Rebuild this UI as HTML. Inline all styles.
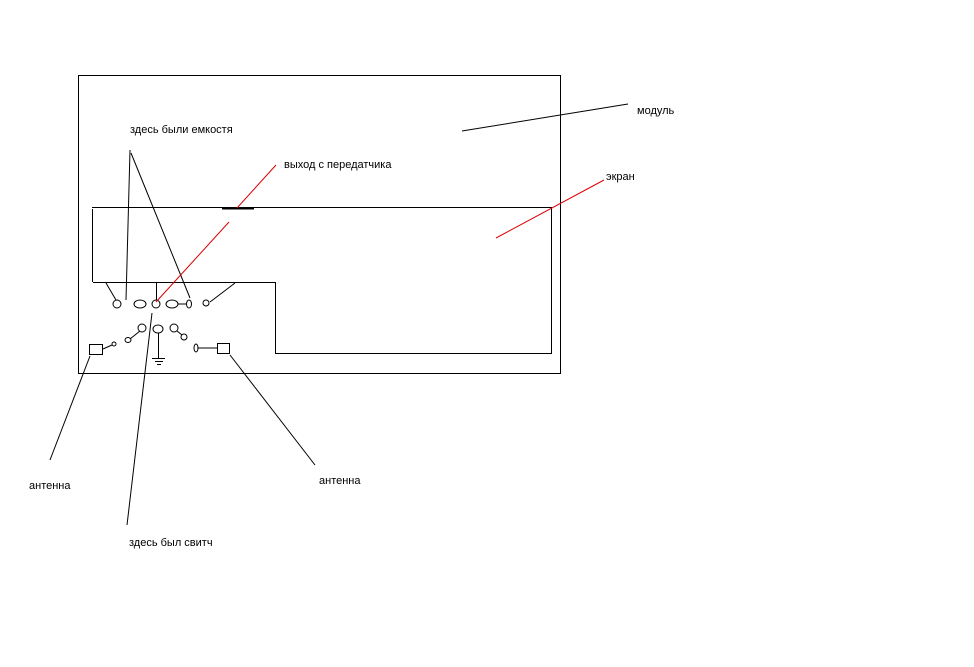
<!DOCTYPE html>
<html><head><meta charset="utf-8"><style>
body{margin:0;background:#fff;width:974px;height:662px;overflow:hidden}
text{font-family:"Liberation Sans","DejaVu Sans",sans-serif;font-size:11px;fill:#000}
</style></head><body>
<svg width="974" height="662" viewBox="0 0 974 662" xmlns="http://www.w3.org/2000/svg" fill="none" stroke="#000" stroke-width="1">
<rect x="78.5" y="75.5" width="482" height="298"/>
<!-- screen -->
<polyline points="92,207.5 551.5,207.5 551.5,353.5 275.5,353.5 275.5,282.5 93,282.5"/>
<line x1="92.5" y1="209" x2="92.5" y2="282"/>
<line x1="222" y1="208.5" x2="254" y2="208.5" stroke-width="2"/>
<!-- lines from top -->
<line x1="130" y1="150" x2="126" y2="300"/>
<line x1="131" y1="153" x2="190" y2="298"/>
<line x1="106" y1="283" x2="116" y2="300"/>
<line x1="156.5" y1="283" x2="156.5" y2="300"/>
<line x1="235" y1="283" x2="210" y2="302"/>
<!-- ellipses row 1 -->
<ellipse cx="117" cy="304" rx="4" ry="4"/>
<ellipse cx="140" cy="304" rx="6" ry="4"/>
<ellipse cx="156" cy="304" rx="4" ry="4"/>
<ellipse cx="172" cy="304" rx="6" ry="4"/>
<line x1="178" y1="304" x2="187" y2="304"/>
<ellipse cx="189" cy="304" rx="2.5" ry="4"/>
<ellipse cx="206" cy="303" rx="3" ry="3"/>
<!-- row 2 -->
<ellipse cx="128" cy="340" rx="3" ry="2.5"/>
<line x1="130" y1="339" x2="140" y2="331"/>
<ellipse cx="142" cy="328" rx="4" ry="4"/>
<ellipse cx="158" cy="329" rx="5" ry="4"/>
<line x1="158.5" y1="333" x2="158.5" y2="358"/>
<line x1="152" y1="358.5" x2="165" y2="358.5"/>
<line x1="155" y1="361.5" x2="163" y2="361.5"/>
<line x1="157" y1="364.5" x2="161" y2="364.5"/>
<ellipse cx="174" cy="328" rx="4" ry="4"/>
<line x1="177" y1="331" x2="182" y2="335"/>
<ellipse cx="184" cy="337" rx="3" ry="3"/>
<ellipse cx="196" cy="348" rx="2" ry="4"/>
<line x1="198" y1="348" x2="217" y2="348"/>
<rect x="217.5" y="343.5" width="12" height="10"/>
<rect x="89.5" y="344.5" width="13" height="10"/>
<line x1="103" y1="349" x2="112" y2="345"/>
<ellipse cx="114" cy="344" rx="2" ry="2"/>
<!-- pointers -->
<line x1="152" y1="313" x2="127" y2="525"/>
<line x1="90" y1="356" x2="50" y2="460"/>
<line x1="230" y1="355" x2="315" y2="465"/>
<line x1="462" y1="131" x2="628" y2="104"/>
<g stroke="#d00">
<line x1="276" y1="165" x2="237" y2="208"/>
<line x1="229" y1="222" x2="156" y2="302"/>
<line x1="496" y1="238" x2="604" y2="180"/>
</g>
<g stroke="none">
<text x="130" y="133">здесь были емкостя</text>
<text x="284" y="168">выход с передатчика</text>
<text x="637" y="114">модуль</text>
<text x="606" y="180">экран</text>
<text x="29" y="489">антенна</text>
<text x="319" y="484">антенна</text>
<text x="129" y="546">здесь был свитч</text>
</g>
</svg>
</body></html>
